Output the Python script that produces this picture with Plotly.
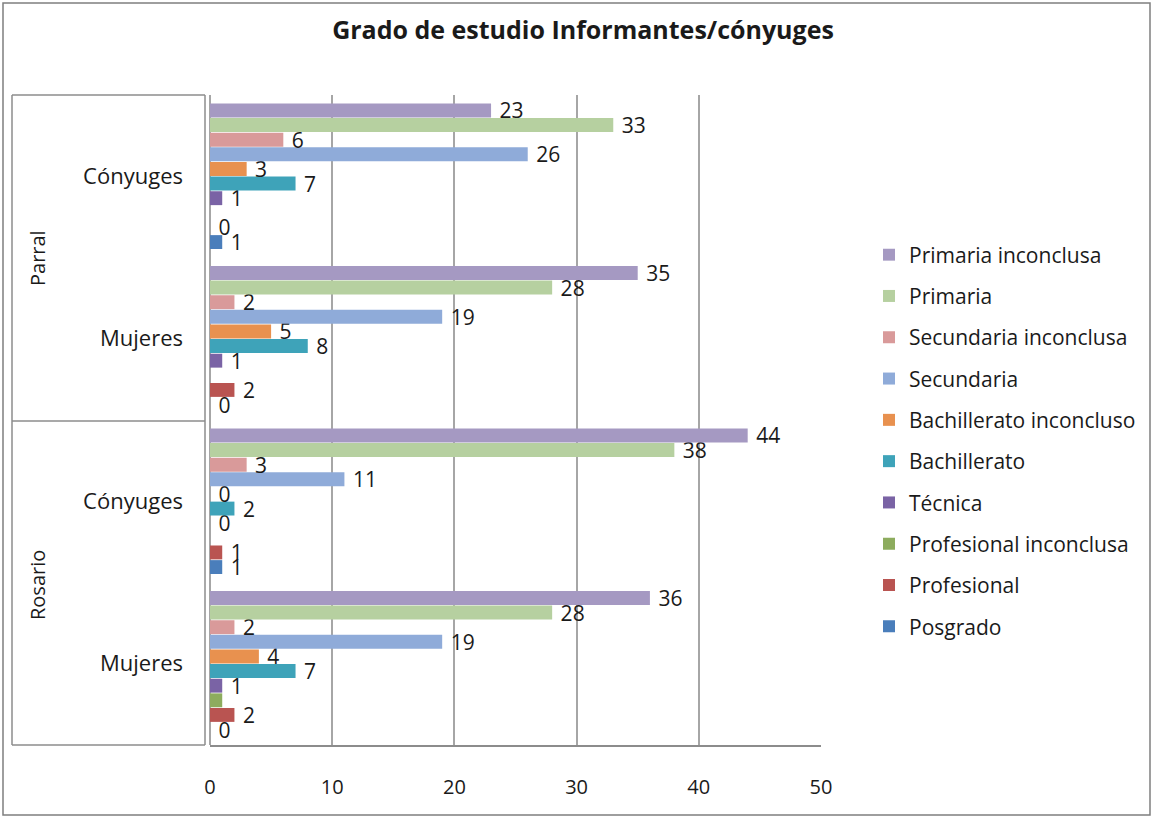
import plotly.graph_objects as go

# Groups, bottom to top
group_ids = ["Rosario|Mujeres", "Rosario|Cónyuges", "Parral|Mujeres", "Parral|Cónyuges"]
group_labels = ["Mujeres", "Cónyuges", "Mujeres", "Cónyuges"]
outer_labels = ["Rosario", "Parral"]

# Series (legend order top to bottom)
series_names = [
    "Primaria inconclusa", "Primaria", "Secundaria inconclusa", "Secundaria",
    "Bachillerato inconcluso", "Bachillerato", "Técnica",
    "Profesional inconclusa", "Profesional", "Posgrado",
]
primaria_inconclusa = [36, 44, 35, 23]
primaria = [28, 38, 28, 33]
secundaria_inconclusa = [2, 3, 2, 6]
secundaria = [19, 11, 19, 26]
bachillerato_inconcluso = [4, 0, 5, 3]
bachillerato = [7, 2, 8, 7]
tecnica = [1, 0, 1, 1]
profesional_inconclusa = [1, 0, 0, 0]
profesional = [2, 1, 2, 0]
posgrado = [0, 1, 0, 1]

series_values = [primaria_inconclusa, primaria, secundaria_inconclusa, secundaria,
                 bachillerato_inconcluso, bachillerato, tecnica,
                 profesional_inconclusa, profesional, posgrado]
series_colors = ["#A599C2", "#B6D0A0", "#D99A9A", "#8FABD9", "#E8914F",
                 "#3EA3B9", "#7A63A5", "#8DAC5E", "#B95451", "#4A7EBB"]
show_labels = [True, True, True, True, True, True, True, False, True, True]

x_ticks = [0, 10, 20, 30, 40, 50]

FONT = "Open Sans"
TXT = "#1a1a1a"

fig = go.Figure()
n = len(series_names)
# add bottom-most series first so it sits at bottom of each group
for i in reversed(range(n)):
    name, vals, col, lab = series_names[i], series_values[i], series_colors[i], show_labels[i]
    fig.add_trace(go.Bar(
        y=group_ids, x=vals, orientation="h", name=name,
        marker=dict(color=col, line=dict(width=0)),
        text=["\u00a0" + str(v) for v in vals] if lab else None,
        textposition="outside" if lab else "none",
        textfont=dict(size=21, color=TXT, family=FONT),
        constraintext="none", cliponaxis=False,
        legendgroup=name, legendrank=i + 1,
    ))

L, R, T, B = 210, 821, 95, 745
W, H = 1154, 819
pw, ph = R - L, B - T

def px(x):
    return (x - L) / pw

def py(y):
    return (B - y) / ph

shapes = []
line_col = "#8C8C8C"
# outer chart border
shapes.append(dict(type="rect", xref="paper", yref="paper",
                   x0=px(3), x1=px(1150), y0=py(815), y1=py(3),
                   line=dict(color="#7F7F7F", width=1.5)))
# category box on the left
shapes.append(dict(type="line", xref="paper", yref="paper", x0=px(12), x1=px(12), y0=py(745), y1=py(95), line=dict(color=line_col, width=1.5)))
for yy in [95, 421, 745]:
    shapes.append(dict(type="line", xref="paper", yref="paper", x0=px(12), x1=px(205), y0=py(yy), y1=py(yy), line=dict(color=line_col, width=1.5)))
shapes.append(dict(type="line", xref="paper", yref="paper", x0=px(205), x1=px(205), y0=py(745), y1=py(95), line=dict(color=line_col, width=1.5)))

annotations = [
    dict(text=outer_labels[1], xref="paper", yref="paper", x=px(37), y=py(258), showarrow=False,
         xanchor="center", yanchor="middle",
         textangle=-90, font=dict(size=20, family=FONT, color=TXT)),
    dict(text=outer_labels[0], xref="paper", yref="paper", x=px(37), y=py(585), showarrow=False,
         xanchor="center", yanchor="middle",
         textangle=-90, font=dict(size=20, family=FONT, color=TXT)),
]

fig.update_layout(
    width=W, height=H,
    margin=dict(l=L, r=W - R, t=T, b=H - B),
    paper_bgcolor="white", plot_bgcolor="white",
    barmode="group", bargap=0.1, bargroupgap=0.05,
    title=dict(text="<b>Grado de estudio Informantes/cónyuges</b>", x=583 / W, xanchor="center",
               y=1 - 30 / H, yanchor="middle", font=dict(size=25, family=FONT, color=TXT)),
    showlegend=True,
    legend=dict(traceorder="grouped", x=px(869), xanchor="left", y=py(441), yanchor="middle",
                font=dict(size=21, family=FONT, color=TXT), tracegroupgap=11,
                itemwidth=30, bgcolor="rgba(0,0,0,0)"),
    xaxis=dict(range=[0, 50], tickvals=x_ticks, showgrid=True, gridcolor="#A6A6A6", gridwidth=1.5,
               zeroline=True, zerolinecolor="#A6A6A6", zerolinewidth=1.5,
               showline=True, linecolor=line_col, linewidth=1.5,
               ticklabelstandoff=23, tickfont=dict(size=20, family=FONT, color=TXT)),
    yaxis=dict(categoryorder="array", categoryarray=group_ids, tickvals=group_ids, ticktext=group_labels,
               showgrid=False, ticklabelstandoff=26, tickfont=dict(size=22, family=FONT, color=TXT)),
    shapes=shapes, annotations=annotations,
    font=dict(family=FONT),
)

fig.write_html("out.html", config={"displayModeBar": False},
               post_script="document.body.style.margin='0';document.body.style.padding='0';")
